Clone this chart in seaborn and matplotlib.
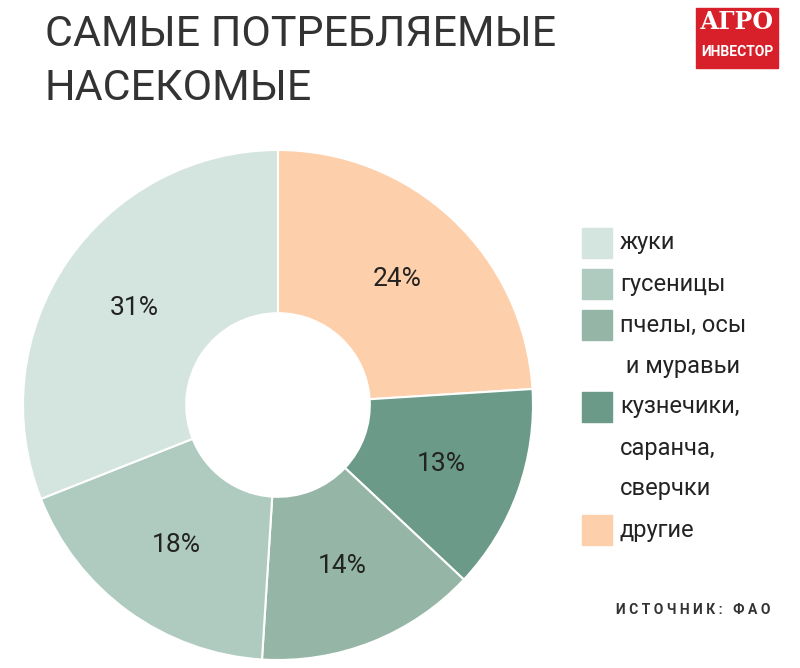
import matplotlib
matplotlib.use("Agg")
import matplotlib.pyplot as plt
import seaborn as sns
from matplotlib.patches import Rectangle

labels = ["другие", "кузнечики,\nсаранча,\nсверчки", "пчелы, осы\n и муравьи", "гусеницы", "жуки"]
shares = [24, 13, 14, 18, 31]
colors = ["#fdcfaa", "#6b9a88", "#95b6a6", "#afcbbf", "#d4e4de"]
legend_order = [4, 3, 2, 1, 0]

W, H = 800, 668
sns.set_theme(style="white")
fig = plt.figure(figsize=(8, 6.68), dpi=100)
ax = fig.add_axes([23 / W, 8 / H, 510 / W, 510 / H])
ax.pie(shares, colors=colors, startangle=90, counterclock=False,
       wedgeprops=dict(width=0.64, edgecolor="white", linewidth=1.5),
       labels=[f"{s}%" for s in shares], labeldistance=0.68,
       textprops=dict(fontsize=19, color="#222222", family="Roboto", ha="center", va="center"))
ax.set_xlim(-1, 1)
ax.set_ylim(-1, 1)
ax.set_aspect("equal")

def px(x, y):
    return x / W, 1 - y / H

for line, yy in [("САМЫЕ ПОТРЕБЛЯЕМЫЕ", 35), ("НАСЕКОМЫЕ", 88)]:
    fig.text(*px(45, yy), line, fontsize=31, family="Roboto", color="#333333",
             va="center", ha="left")

# logo
fig.patches.append(Rectangle(px(696, 68), 82 / W, 60 / H, transform=fig.transFigure, color="#d7202a"))
fig.text(*px(737, 22), "АГРО", fontsize=17, fontweight="bold", family="DejaVu Serif",
         color="white", ha="center", va="center")
fig.text(*px(737, 52), "ИНВЕСТОР", fontsize=10, fontweight="bold", family="Roboto",
         color="white", ha="center", va="center")

# legend
y = 243
for i in legend_order:
    nlines = labels[i].count("\n") + 1
    fig.patches.append(Rectangle(px(582, y + 15), 30 / W, 30 / H, transform=fig.transFigure,
                                 color=colors[i]))
    for k, line in enumerate(labels[i].split("\n")):
        fig.text(*px(620, y + 41 * k), line, fontsize=17, family="Roboto", color="#222222",
                 va="center", ha="left")
    y += 41 * nlines
fig.text(*px(770, 610), "И С Т О Ч Н И К :   Ф А О", fontsize=10, fontweight="bold",
         family="Roboto", color="#333333", ha="right", va="center")

fig.savefig("out.png", dpi=100, facecolor="white")
